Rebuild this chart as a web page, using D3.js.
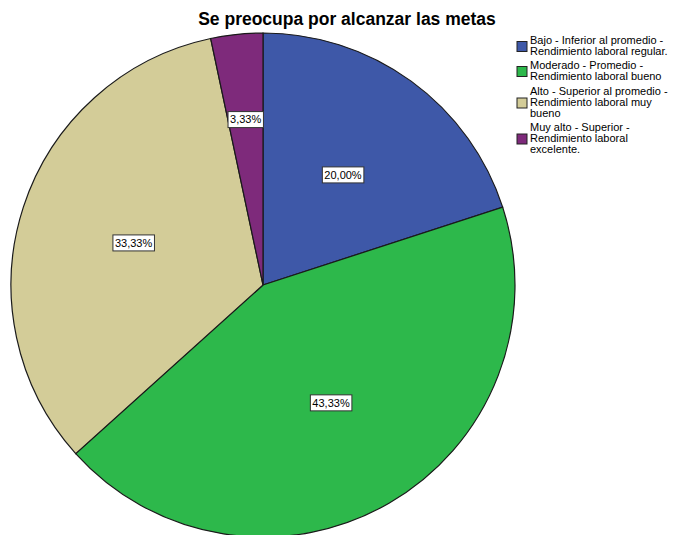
<!DOCTYPE html>
<html>
<head>
<meta charset="utf-8">
<script src="https://cdn.jsdelivr.net/npm/d3@7"></script>
<style>
  body { margin: 0; background: #fff; }
  svg { display: block; font-family: Arial, "Liberation Sans", sans-serif; }
</style>
</head>
<body>
<svg id="chart" width="678" height="535"></svg>
<script>
// Category labels (legend), split into lines as displayed
const categories = [
  ["Bajo - Inferior al promedio -", "Rendimiento laboral regular."],
  ["Moderado - Promedio -", "Rendimiento laboral bueno"],
  ["Alto - Superior al promedio -", "Rendimiento laboral muy", "bueno"],
  ["Muy alto - Superior -", "Rendimiento laboral", "excelente."]
];
// Percentages per category
const values = [20.00, 43.33, 33.33, 3.33];
const colors = ["#3E58A8", "#2DB84B", "#D3CC98", "#7E2A7B"];
const title = "Se preocupa por alcanzar las metas";

const svg = d3.select("#chart");
const cx = 263, cy = 285, r = 252;

svg.append("text")
  .attr("x", 347).attr("y", 25)
  .attr("text-anchor", "middle")
  .attr("font-size", 17.5).attr("font-weight", "bold")
  .attr("fill", "#000")
  .text(title);

const pie = d3.pie().sort(null).value(d => d);
const arcs = pie(values);
const arc = d3.arc().innerRadius(0).outerRadius(r);

const g = svg.append("g").attr("transform", `translate(${cx},${cy})`);
g.selectAll("path.slice")
  .data(arcs)
  .join("path")
  .attr("class", "slice")
  .attr("d", arc)
  .attr("fill", (d, i) => colors[i])
  .attr("stroke", "#1a1a1a")
  .attr("stroke-width", 1.2);

// Value labels in boxes; narrow slices get pushed further out
const fmt = v => d3.format(".2f")(v).replace(".", ",") + "%";
const labels = g.selectAll("g.lbl")
  .data(arcs)
  .join("g")
  .attr("class", "lbl")
  .attr("transform", d => {
    const share = (d.endAngle - d.startAngle) / (2 * Math.PI);
    const lr = share < 0.1 ? r * 0.66 : r * 0.54;
    const c = d3.arc().innerRadius(lr).outerRadius(lr).centroid(d);
    return `translate(${c[0]},${c[1]})`;
  });
labels.each(function(d) {
  const s = d3.select(this);
  const t = s.append("text")
    .attr("text-anchor", "middle")
    .attr("dy", "0.35em")
    .attr("font-size", 11)
    .attr("fill", "#000")
    .text(fmt(d.data));
  const bb = t.node().getBBox();
  s.insert("rect", "text")
    .attr("x", bb.x - 2).attr("y", -8)
    .attr("width", bb.width + 4).attr("height", 16)
    .attr("fill", "#fff")
    .attr("stroke", "#333")
    .attr("stroke-width", 1);
});

// Legend
const lineH = 11;
const starts = [44, 69, 95, 131];
const legend = svg.append("g");
categories.forEach((lines, i) => {
  const y0 = starts[i];
  const mid = y0 + (lines.length - 1) * lineH / 2;
  legend.append("rect")
    .attr("x", 517).attr("y", mid - 8)
    .attr("width", 10).attr("height", 10)
    .attr("fill", colors[i])
    .attr("stroke", "#222").attr("stroke-width", 1);
  const t = legend.append("text")
    .attr("x", 530).attr("y", y0)
    .attr("font-size", 11).attr("fill", "#000");
  lines.forEach((ln, j) => {
    t.append("tspan").attr("x", 530).attr("y", y0 + j * lineH).text(ln);
  });
});
</script>
</body>
</html>
